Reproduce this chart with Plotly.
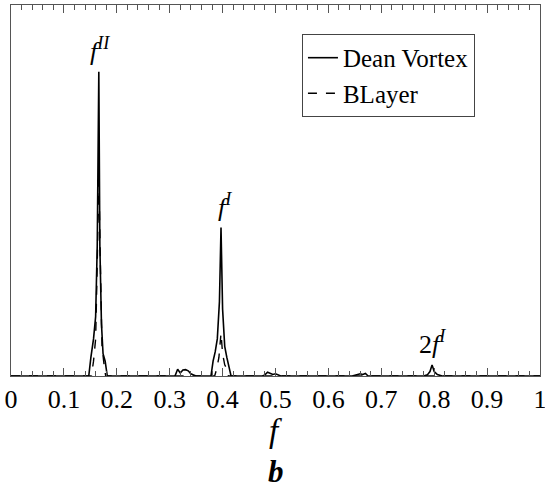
import plotly.graph_objects as go

# spectrum (frequency f, amplitude normalised to the frame height)
f_dean = [0.0, 0.147, 0.151, 0.156, 0.160, 0.163, 0.166, 0.168, 0.171, 0.174,
          0.178, 0.182, 0.30, 0.31, 0.315, 0.32, 0.325, 0.33, 0.335, 0.34,
          0.345, 0.35, 0.378, 0.382, 0.386, 0.390, 0.394, 0.397, 0.400, 0.404,
          0.408, 0.412, 0.416, 0.475, 0.480, 0.485, 0.490, 0.495, 0.500, 0.505,
          0.510, 0.645, 0.650, 0.655, 0.660, 0.665, 0.670, 0.675, 0.780, 0.787,
          0.792, 0.796, 0.800, 0.806, 0.815, 1.0]
amp_dean = [0.0, 0.0, 0.05, 0.10, 0.16, 0.35, 0.82, 0.35, 0.14, 0.06,
            0.04, 0.0, 0.0, 0.0, 0.018, 0.008, 0.016, 0.017, 0.014, 0.006,
            0.003, 0.0, 0.0, 0.04, 0.065, 0.10, 0.20, 0.40, 0.18, 0.08,
            0.05, 0.02, 0.0, 0.0, 0.003, 0.010, 0.007, 0.004, 0.006, 0.003,
            0.0, 0.0, 0.002, 0.004, 0.006, 0.004, 0.007, 0.0, 0.0, 0.003,
            0.012, 0.030, 0.012, 0.004, 0.0, 0.0]

f_blayer = [0.0, 0.152, 0.156, 0.160, 0.163, 0.166, 0.169, 0.172, 0.176, 0.179,
            0.385, 0.389, 0.393, 0.397, 0.400, 0.404, 0.408, 0.411, 1.0]
amp_blayer = [0.0, 0.0, 0.04, 0.10, 0.30, 0.55, 0.30, 0.08, 0.03, 0.0,
              0.0, 0.02, 0.05, 0.115, 0.06, 0.03, 0.02, 0.0, 0.0]

peak_f = [0.168, 0.405, 0.797]
peak_amp = [0.83, 0.41, 0.04]
peak_labels = ["<i>f</i><sup><i>II</i></sup>", "<i>f</i><sup><i>I</i></sup>",
               "2<i>f</i><sup><i>I</i></sup>"]

font = "Liberation Serif, Times New Roman, serif"

fig = go.Figure()
fig.add_trace(go.Scatter(x=f_dean, y=amp_dean, mode="lines", name="Dean Vortex",
                         line=dict(color="black", width=1.6)))
fig.add_trace(go.Scatter(x=f_blayer, y=amp_blayer, mode="lines", name="BLayer",
                         line=dict(color="black", width=1.4, dash="dash")))

for x, y, t in zip(peak_f, peak_amp, peak_labels):
    fig.add_annotation(x=x, y=y, text=t, showarrow=False, yanchor="bottom",
                       font=dict(family=font, size=26, color="black"))

# axis title and panel letter placed by hand below the tick labels
fig.add_annotation(x=0.5, y=-0.148, xref="paper", yref="paper", text="<i>f</i>",
                   showarrow=False, yanchor="middle",
                   font=dict(family=font, size=33, color="black"))
fig.add_annotation(x=0.5, y=-0.31, xref="paper", yref="paper", text="<b><i>b</i></b>",
                   showarrow=False, yanchor="bottom",
                   font=dict(family=font, size=31, color="black"))

fig.update_layout(
    template="none",
    width=545, height=491,
    margin=dict(l=11, r=5, t=5, b=115, autoexpand=False),
    plot_bgcolor="white", paper_bgcolor="white",
    showlegend=True,
    legend=dict(x=0.55, y=0.922, xanchor="left", yanchor="top",
                bordercolor="#444", borderwidth=1, bgcolor="white",
                font=dict(family=font, size=25, color="black"),
                itemwidth=30, tracegroupgap=0),
    xaxis=dict(range=[0, 1], dtick=0.1, tick0=0, ticks="inside", ticklen=8,
               tickcolor="#555", showline=True, linecolor="#555", mirror="allticks",
               showgrid=False, zeroline=False, automargin=False,
               ticklabeloverflow="allow",
               tickfont=dict(family=font, size=26, color="black"),
               minor=dict(dtick=0.02, ticks="inside", ticklen=5, tickcolor="#555",
                          showgrid=False)),
    yaxis=dict(range=[0, 1], showticklabels=False, ticks="", showline=True,
               linecolor="#555", mirror=True, showgrid=False, zeroline=False,
               automargin=False),
)

# the page body has a default 8px margin; drop it so the figure fills the window
fig.write_html("out.html", config={"displayModeBar": False},
               post_script="document.body.style.margin = '0';")
